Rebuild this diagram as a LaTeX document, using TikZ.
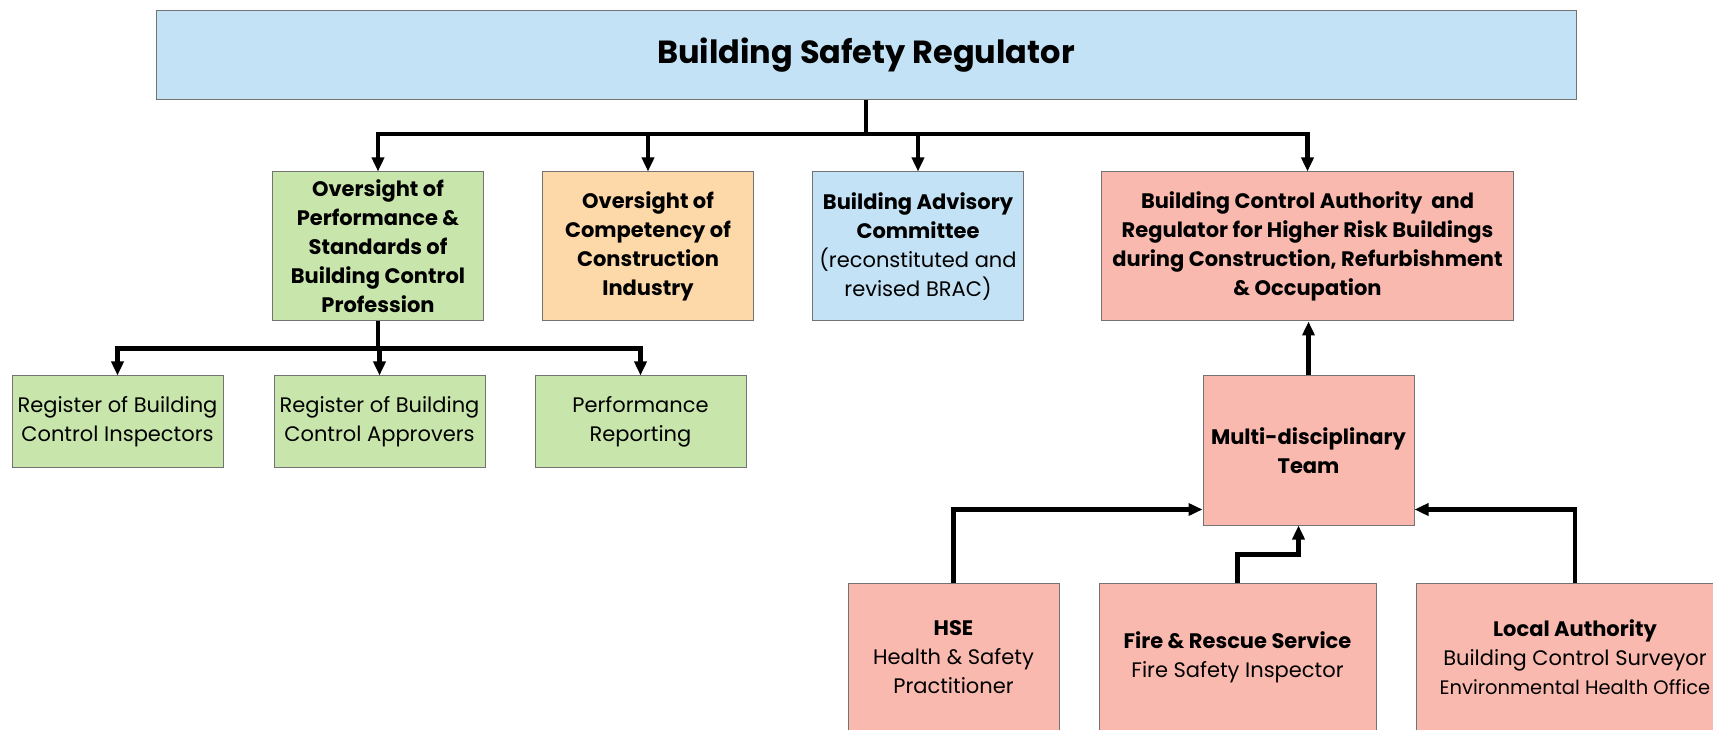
\documentclass[tikz,border=0pt]{standalone}
\usepackage{fontspec}
\setmainfont{Poppins}
\usetikzlibrary{positioning}
\usetikzlibrary{calc}
\usetikzlibrary{arrows.meta}

\definecolor{bsrblue}{HTML}{C3E2F5}
\definecolor{bsrgreen}{HTML}{C8E6AB}
\definecolor{bsrorange}{HTML}{FDD8A8}
\definecolor{bsrsalmon}{HTML}{F9B9AF}

\begin{document}
\begin{tikzpicture}[x=1pt, y=1pt,
    box/.style={draw=black!55, line width=1pt, align=center, inner sep=2pt,
        minimum width=211pt, minimum height=149pt, font=\fontsize{21}{29}\selectfont},
    head/.style={box, font=\fontsize{21}{29}\selectfont\bfseries},
    wire/.style={line width=4.5pt},
    link/.style={wire, -{Triangle[width=12pt,length=14pt]}}]
    \useasboundingbox (0,0) rectangle (1713,729);
    \clip (0,0) rectangle (1713,729);

    % top
    \node[box, fill=bsrblue, minimum width=1420pt, minimum height=89pt,
        font=\fontsize{32}{36}\selectfont\bfseries] (bsr) at (866,674) {Building Safety Regulator};

    % second row
    \node[head, fill=bsrgreen] (ovPerf) at (378,482.5) {Oversight of\\Performance \&\\Standards of\\Building Control\\Profession};
    \node[head, fill=bsrorange, right = 58pt of ovPerf] (ovComp) {Oversight of\\Competency of\\Construction\\Industry};
    \node[box, fill=bsrblue, right = 58pt of ovComp] (advCom) {\textbf{Building Advisory}\\\textbf{Committee}\\(reconstituted and\\revised BRAC)};
    \node[head, fill=bsrsalmon, minimum width=412pt, right = 77pt of advCom] (bca) {Building Control Authority\ \ and\\Regulator for Higher Risk Buildings\\during Construction, Refurbishment\\\& Occupation};

    % registers
    \node[box, fill=bsrgreen, minimum height=91pt] (regInsp) at (117.5,307.5) {Register of Building\\Control Inspectors};
    \node[box, fill=bsrgreen, minimum height=91pt, right = 50pt of regInsp] (regAppr) {Register of Building\\Control Approvers};
    \node[box, fill=bsrgreen, minimum height=91pt, right = 49pt of regAppr] (perfRep) {Performance\\Reporting};

    % team
    \node[head, fill=bsrsalmon] (mdt) at (1308.5,278.5) {Multi-disciplinary\\Team};
    \node[box, fill=bsrsalmon, minimum height=148pt] (hse) at (953.5,72) {\textbf{HSE}\\Health \& Safety\\Practitioner};
    \node[box, fill=bsrsalmon, minimum width=277pt, minimum height=148pt, right = 39pt of hse] (fire) {\textbf{Fire \& Rescue Service}\\Fire Safety Inspector};
    \node[box, fill=bsrsalmon, minimum width=318pt, minimum height=148pt, right = 39pt of fire] (local) {\textbf{Local Authority}\\Building Control Surveyor\\{\fontsize{19.5}{29}\selectfont Environmental Health Office}};

    % connectors
    \coordinate (bus) at (866,595);
    \draw[wire] (bsr) -- (bus);
    \draw[link] (bus) -| (ovPerf);
    \draw[link] (bus) -| (ovComp);
    \draw[link] (bus) -| (advCom);
    \draw[link] (bus) -| (bca);

    \coordinate (subBus) at ($(ovPerf.south)+(0,-27)$);
    \draw[wire] (ovPerf) -- (subBus);
    \draw[link] (subBus) -| (regInsp);
    \draw[link] (subBus) -| (regAppr);
    \draw[link] (subBus) -| (perfRep);

    \draw[link] (mdt.north) -- (mdt.north |- bca.south);
    \draw[link] (hse) |- ($(mdt.south west)+(0,16)$);
    \draw[link] (local) |- ($(mdt.south east)+(0,16)$);
    \draw[link] (fire.north) -- ++(0,28) -| ($(mdt.south)+(-10,0)$);
\end{tikzpicture}
\end{document}
